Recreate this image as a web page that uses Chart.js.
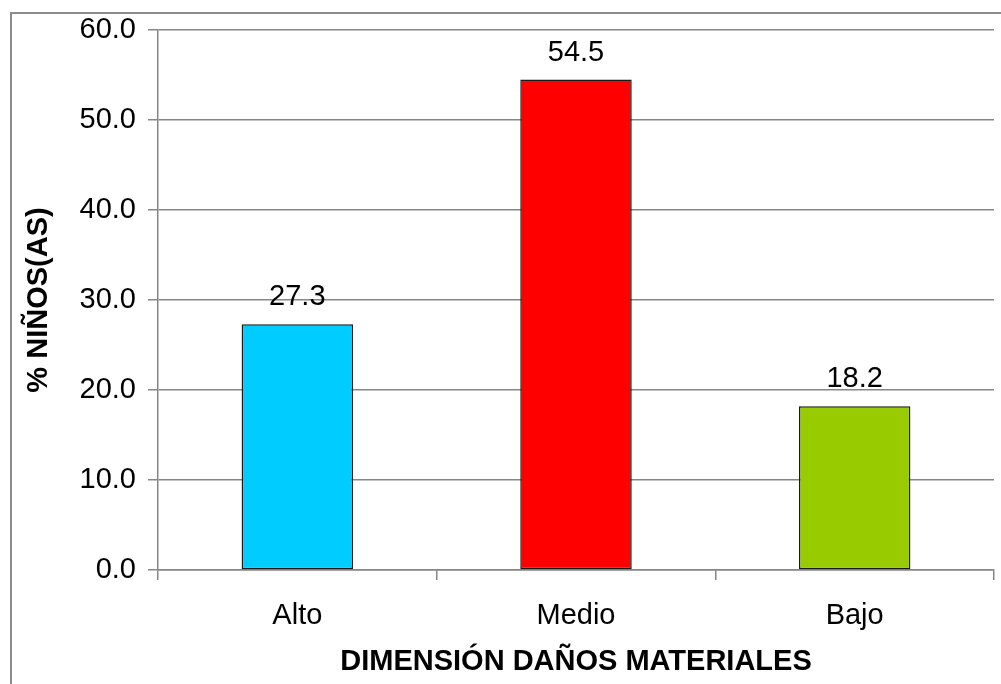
<!DOCTYPE html>
<html>
<head>
<meta charset="utf-8">
<script src="https://cdn.jsdelivr.net/npm/chart.js@4/dist/chart.umd.min.js"></script>
<style>
  body { margin: 0; background: #fff; }
  canvas { display: block; }
</style>
</head>
<body>
<canvas id="chart" width="1001" height="684"></canvas>
<script>
// Data
const categories = ['Alto', 'Medio', 'Bajo']
const percentages = [27.3, 54.5, 18.2]
const barColors = ['#00CCFF', '#FF0000', '#99CC00']
const yTitle = '% NIÑOS(AS)'
const xTitle = 'DIMENSIÓN DAÑOS MATERIALES'

const font = 'Liberation Sans, Arial, sans-serif'
const gridGray = '#868686'

// outer frame of the chart
const framePlugin = {
    id: 'frame',
    beforeDraw: (chart) => {
        const ctx = chart.ctx
        ctx.save()
        ctx.strokeStyle = '#8c8c8c'
        ctx.lineWidth = 2
        ctx.strokeRect(11, 13, 2000, 2000)
        ctx.restore()
    }
}

// value above each bar
const valueLabels = {
    id: 'valueLabels',
    afterDatasetsDraw: (chart) => {
        const ctx = chart.ctx
        const meta = chart.getDatasetMeta(0)
        ctx.save()
        ctx.font = '29px ' + font
        ctx.fillStyle = '#000'
        ctx.textAlign = 'center'
        ctx.textBaseline = 'alphabetic'
        meta.data.forEach((bar, i) => {
            ctx.fillText(percentages[i].toFixed(1), bar.x, bar.y - 19)
        })
        ctx.restore()
    }
}

new Chart(document.getElementById('chart'), {
    type: 'bar',
    data: {
        labels: categories,
        datasets: [{
            data: percentages,
            backgroundColor: barColors,
            borderColor: '#1a1a1a',
            borderWidth: 1.5,
            borderSkipped: false,
            barPercentage: 0.4,
            categoryPercentage: 1
        }]
    },
    options: {
        responsive: false,
        animation: false,
        layout: {
            padding: { top: 30, right: 7, left: 0, bottom: 0 }
        },
        plugins: {
            legend: { display: false },
            tooltip: { enabled: false }
        },
        scales: {
            x: {
                afterFit: (scale) => { scale.height = 114 },
                grid: {
                    offset: true,
                    drawOnChartArea: false,
                    drawTicks: true,
                    tickLength: 10,
                    color: gridGray,
                    lineWidth: 1.5
                },
                border: { display: true, color: gridGray, width: 1.5 },
                ticks: {
                    color: '#000',
                    padding: 19,
                    font: { family: font, size: 29 }
                },
                title: {
                    display: true,
                    text: xTitle,
                    color: '#000',
                    padding: { top: 0, bottom: 5 },
                    font: { family: font, size: 29, weight: 'bold' }
                }
            },
            y: {
                min: 0,
                max: 60,
                afterFit: (scale) => { scale.width = 158 },
                grid: {
                    color: gridGray,
                    lineWidth: 1.5,
                    tickLength: 10
                },
                border: { display: true, color: gridGray, width: 1.5 },
                ticks: {
                    stepSize: 10,
                    color: '#000',
                    padding: 12,
                    font: { family: font, size: 29 },
                    callback: (v) => v.toFixed(1)
                },
                title: {
                    display: true,
                    text: yTitle,
                    color: '#000',
                    padding: { top: 22, bottom: 0 },
                    font: { family: font, size: 29, weight: 'bold' }
                }
            }
        }
    },
    plugins: [framePlugin, valueLabels]
})
</script>
</body>
</html>
